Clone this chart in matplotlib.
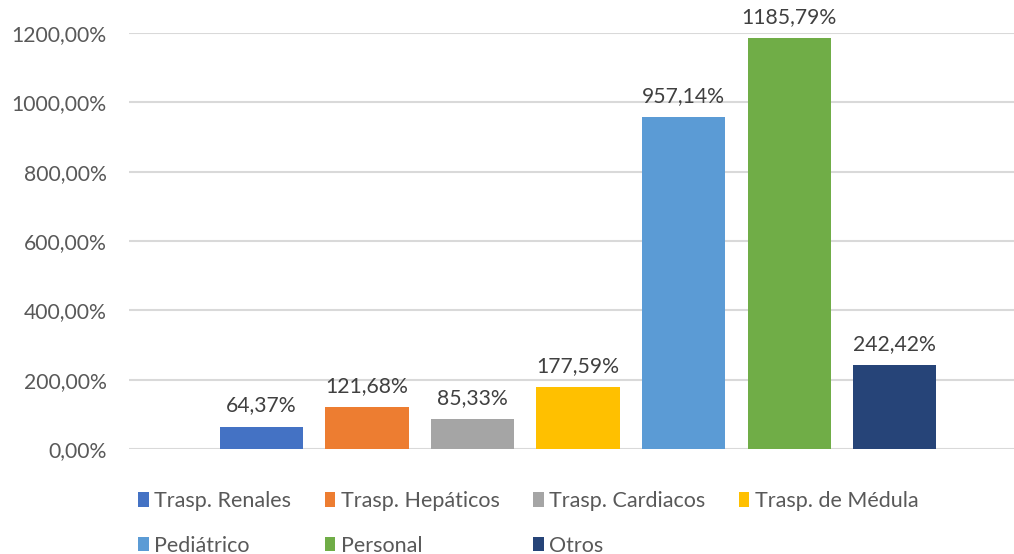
import matplotlib
matplotlib.use("Agg")
import matplotlib.pyplot as plt
from matplotlib.patches import Patch
from matplotlib.ticker import FuncFormatter

categories = ["Trasp. Renales", "Trasp. Hepáticos", "Trasp. Cardiacos", "Trasp. de Médula",
              "Pediátrico", "Personal", "Otros"]
values = [64.37, 121.68, 85.33, 177.59, 957.14, 1185.79, 242.42]
colors = ["#4472C4", "#ED7D31", "#A5A5A5", "#FFC000", "#5B9BD5", "#70AD47", "#264478"]
yticks = [0, 200, 400, 600, 800, 1000, 1200]

plt.rcParams['font.family'] = ['Lato', 'DejaVu Sans']

fig = plt.figure(figsize=(10.14, 5.54), dpi=100)
ax = fig.add_axes([129/1014, 1-449/554, 1-129/1014, (449-33)/554])

x = list(range(len(values)))
bars = ax.bar(x, values, width=0.79, color=colors, zorder=3)

def fmt(v):
    return f"{v:.2f}".replace(".", ",") + "%"

for xi, v in zip(x, values):
    ax.annotate(fmt(v), (xi, v), xytext=(0, 8), textcoords="offset points",
                ha="center", va="bottom", fontsize=15.2, color="#404040",
                annotation_clip=False)

ax.set_ylim(0, 1200)
ax.set_xlim(-1.256, 6 + 1.13)
ax.set_yticks(yticks)
ax.yaxis.set_major_formatter(FuncFormatter(lambda v, p: fmt(v)))
ax.tick_params(axis="y", length=0, pad=16, labelsize=15.2, labelcolor="#595959")
ax.tick_params(axis="x", length=0, labelbottom=False)
ax.grid(axis="y", color="#D9D9D9", linewidth=1.5, zorder=0)
for s in ax.spines.values():
    s.set_visible(False)

handles = [Patch(facecolor=c, edgecolor='none') for c in colors]
order = [0, 4, 1, 5, 2, 6, 3]
leg = fig.legend([handles[i] for i in order], [categories[i] for i in order],
                 ncol=4, loc="upper left", bbox_to_anchor=(138/1014, 1-491/554),
                 frameon=False, fontsize=15.5, labelcolor="#595959",
                 handlelength=0.5, handleheight=0.65, handletextpad=0.25,
                 columnspacing=1.55, labelspacing=1.15, borderpad=0, borderaxespad=0)

fig.savefig("out.png", dpi=100)
